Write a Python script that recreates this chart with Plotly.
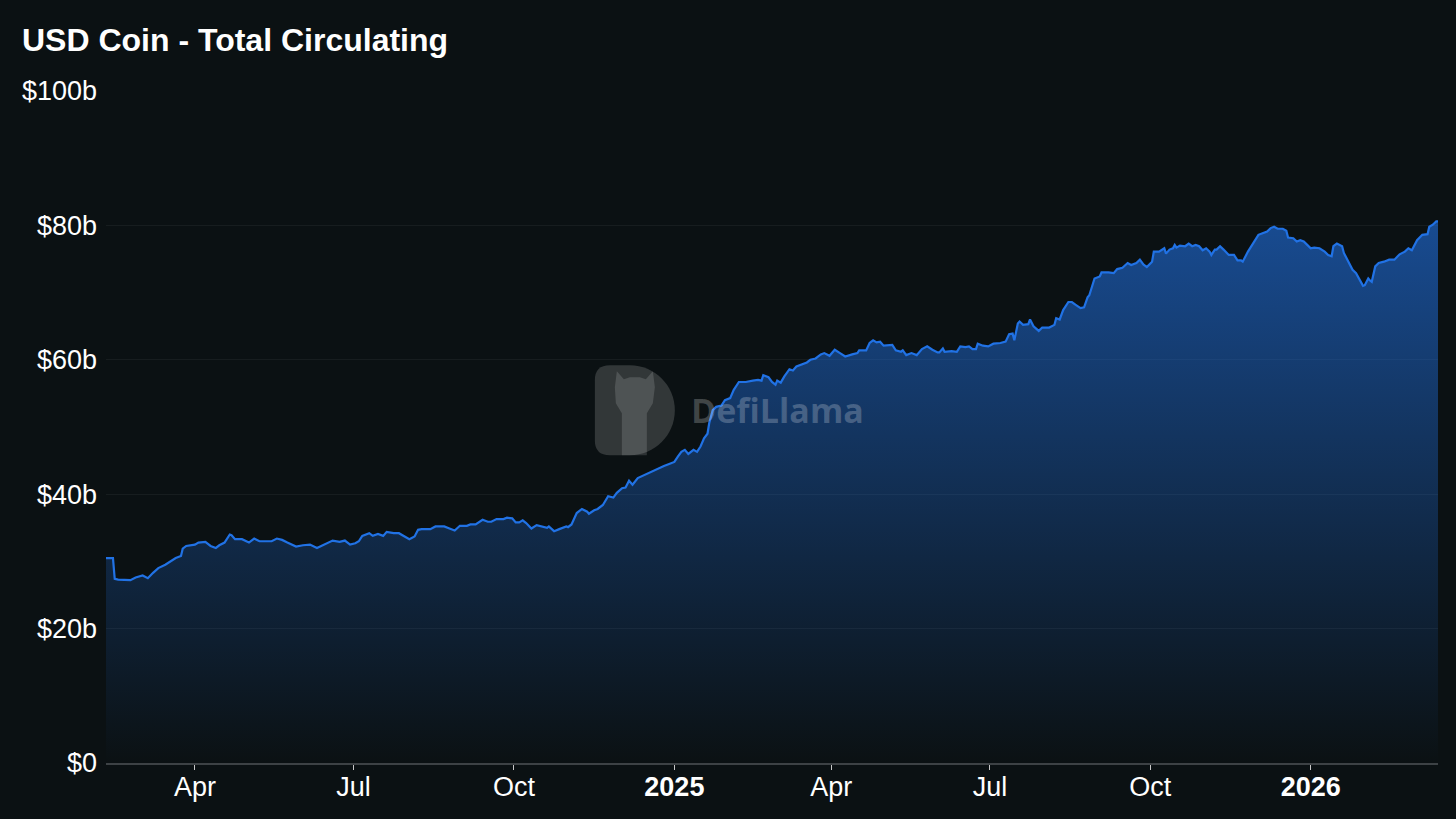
"""USD Coin - Total Circulating (DefiLlama style area chart)."""

import plotly.graph_objects as go

# ---------------------------------------------------------------
# Data: USDC circulating supply, in $ billions
# ---------------------------------------------------------------
dates = [
    "2024-02-10", "2024-02-14", "2024-02-15", "2024-02-17", "2024-02-24", "2024-02-27",
    "2024-03-02", "2024-03-05", "2024-03-08", "2024-03-11", "2024-03-15", "2024-03-18",
    "2024-03-21", "2024-03-24", "2024-03-25", "2024-03-27", "2024-04-01", "2024-04-03",
    "2024-04-07", "2024-04-10", "2024-04-13", "2024-04-15", "2024-04-18", "2024-04-21",
    "2024-04-22", "2024-04-24", "2024-04-28", "2024-05-02", "2024-05-05", "2024-05-08",
    "2024-05-15", "2024-05-18", "2024-05-21", "2024-05-24", "2024-05-29", "2024-06-02",
    "2024-06-06", "2024-06-10", "2024-06-16", "2024-06-19", "2024-06-23", "2024-06-26",
    "2024-06-29", "2024-07-02", "2024-07-04", "2024-07-06", "2024-07-10", "2024-07-12",
    "2024-07-15", "2024-07-18", "2024-07-20", "2024-07-24", "2024-07-27", "2024-07-30",
    "2024-08-02", "2024-08-05", "2024-08-07", "2024-08-09", "2024-08-14", "2024-08-17",
    "2024-08-22", "2024-08-25", "2024-08-28", "2024-08-31", "2024-09-04", "2024-09-06",
    "2024-09-09", "2024-09-13", "2024-09-16", "2024-09-18", "2024-09-21", "2024-09-25",
    "2024-09-27", "2024-09-30", "2024-10-02", "2024-10-04", "2024-10-06", "2024-10-08",
    "2024-10-11", "2024-10-14", "2024-10-17", "2024-10-20", "2024-10-21", "2024-10-24",
    "2024-10-27", "2024-10-31", "2024-11-01", "2024-11-03", "2024-11-06", "2024-11-09",
    "2024-11-12", "2024-11-13", "2024-11-16", "2024-11-18", "2024-11-21", "2024-11-23",
    "2024-11-24", "2024-11-27", "2024-11-29", "2024-12-02", "2024-12-04", "2024-12-06",
    "2024-12-08", "2024-12-11", "2024-12-15", "2024-12-19", "2024-12-23", "2024-12-26",
    "2024-12-29", "2025-01-01", "2025-01-03", "2025-01-05", "2025-01-07", "2025-01-09",
    "2025-01-12", "2025-01-14", "2025-01-16", "2025-01-18", "2025-01-20", "2025-01-21",
    "2025-01-23", "2025-01-25", "2025-01-28", "2025-01-30", "2025-02-02", "2025-02-04",
    "2025-02-07", "2025-02-11", "2025-02-15", "2025-02-18", "2025-02-20", "2025-02-21",
    "2025-02-24", "2025-02-26", "2025-02-28", "2025-03-01", "2025-03-03", "2025-03-05",
    "2025-03-08", "2025-03-10", "2025-03-12", "2025-03-15", "2025-03-18", "2025-03-20",
    "2025-03-23", "2025-03-26", "2025-03-28", "2025-03-31", "2025-04-03", "2025-04-06",
    "2025-04-09", "2025-04-13", "2025-04-16", "2025-04-17", "2025-04-21", "2025-04-23",
    "2025-04-25", "2025-04-27", "2025-04-29", "2025-05-01", "2025-05-05", "2025-05-06",
    "2025-05-08", "2025-05-11", "2025-05-12", "2025-05-14", "2025-05-17", "2025-05-20",
    "2025-05-23", "2025-05-26", "2025-05-29", "2025-06-01", "2025-06-02", "2025-06-04",
    "2025-06-05", "2025-06-09", "2025-06-12", "2025-06-14", "2025-06-17", "2025-06-19",
    "2025-06-21", "2025-06-23", "2025-06-24", "2025-06-27", "2025-06-30", "2025-07-03",
    "2025-07-07", "2025-07-10", "2025-07-12", "2025-07-14", "2025-07-15", "2025-07-17",
    "2025-07-18", "2025-07-20", "2025-07-23", "2025-07-24", "2025-07-26", "2025-07-29",
    "2025-07-31", "2025-08-04", "2025-08-07", "2025-08-08", "2025-08-10", "2025-08-12",
    "2025-08-15", "2025-08-17", "2025-08-19", "2025-08-22", "2025-08-24", "2025-08-26",
    "2025-08-27", "2025-08-30", "2025-09-02", "2025-09-03", "2025-09-07", "2025-09-10",
    "2025-09-12", "2025-09-15", "2025-09-18", "2025-09-20", "2025-09-23", "2025-09-25",
    "2025-09-27", "2025-09-29", "2025-10-02", "2025-10-03", "2025-10-06", "2025-10-09",
    "2025-10-10", "2025-10-12", "2025-10-14", "2025-10-15", "2025-10-16", "2025-10-18",
    "2025-10-21", "2025-10-23", "2025-10-25", "2025-10-27", "2025-10-29", "2025-10-31",
    "2025-11-02", "2025-11-04", "2025-11-05", "2025-11-07", "2025-11-08", "2025-11-10",
    "2025-11-12", "2025-11-15", "2025-11-18", "2025-11-20", "2025-11-22", "2025-11-23",
    "2025-11-26", "2025-11-29", "2025-12-02", "2025-12-04", "2025-12-07", "2025-12-09",
    "2025-12-11", "2025-12-13", "2025-12-16", "2025-12-18", "2025-12-19", "2025-12-22",
    "2025-12-24", "2025-12-26", "2025-12-28", "2025-12-30", "2026-01-01", "2026-01-03",
    "2026-01-06", "2026-01-09", "2026-01-11", "2026-01-13", "2026-01-14", "2026-01-16",
    "2026-01-19", "2026-01-20", "2026-01-22", "2026-01-25", "2026-01-27", "2026-01-29",
    "2026-01-31", "2026-02-01", "2026-02-03", "2026-02-04", "2026-02-05", "2026-02-07",
    "2026-02-09", "2026-02-12", "2026-02-15", "2026-02-18", "2026-02-21", "2026-02-24",
    "2026-02-26", "2026-02-28", "2026-03-03", "2026-03-06", "2026-03-09", "2026-03-10",
    "2026-03-12", "2026-03-14", "2026-03-15",
]

circulating_b = [
    30.5, 30.5, 27.4, 27.3, 27.2, 27.6,
    27.9, 27.5, 28.3, 29.0, 29.5, 30.0,
    30.5, 30.8, 31.9, 32.3, 32.5, 32.8,
    32.9, 32.3, 32.0, 32.4, 32.8, 34.0,
    33.9, 33.3, 33.3, 32.8, 33.4, 33.0,
    33.0, 33.4, 33.2, 32.8, 32.2, 32.4,
    32.5, 32.0, 32.8, 33.1, 32.9, 33.1,
    32.5, 32.7, 33.0, 33.8, 34.2, 33.8,
    34.1, 33.8, 34.4, 34.2, 34.2, 33.8,
    33.3, 33.7, 34.7, 34.8, 34.8, 35.2,
    35.2, 34.9, 34.6, 35.3, 35.3, 35.5,
    35.5, 36.2, 35.9, 35.9, 36.3, 36.3,
    36.5, 36.4, 35.8, 35.8, 36.1, 35.7,
    34.9, 35.4, 35.2, 35.0, 35.2, 34.5,
    34.8, 35.2, 35.1, 35.5, 37.2, 37.8,
    37.4, 37.1, 37.6, 37.8, 38.4, 39.4,
    39.7, 39.5, 40.2, 40.9, 41.0, 42.0,
    41.4, 42.4, 42.9, 43.3, 43.8, 44.2,
    44.5, 44.8, 45.6, 46.3, 46.6, 46.0,
    46.6, 46.3, 47.1, 48.3, 49.0, 50.6,
    52.5, 53.0, 53.2, 54.0, 54.3, 55.5,
    56.7, 56.7, 56.9, 57.0, 56.9, 57.7,
    57.4, 56.7, 56.3, 56.9, 56.6, 57.5,
    58.6, 58.4, 59.0, 59.3, 59.6, 60.0,
    60.2, 60.8, 61.0, 60.6, 61.5, 61.0,
    60.5, 60.8, 61.0, 61.4, 61.4, 62.5,
    62.9, 62.6, 62.7, 62.1, 62.1, 62.2,
    61.4, 61.2, 61.4, 60.7, 61.0, 60.7,
    61.6, 62.0, 61.5, 61.1, 61.1, 61.7,
    61.2, 61.3, 61.2, 62.0, 61.9, 62.0,
    61.6, 61.6, 62.4, 62.1, 62.0, 62.4,
    62.5, 62.7, 63.8, 63.9, 62.9, 65.4,
    65.7, 65.2, 65.3, 66.0, 65.0, 64.3,
    64.8, 64.8, 65.2, 66.2, 66.0, 67.4,
    68.6, 68.6, 68.2, 67.7, 67.8, 69.3,
    69.6, 72.1, 72.4, 73.0, 73.0, 72.9,
    73.5, 73.7, 74.4, 74.1, 74.4, 74.9,
    74.2, 73.8, 74.6, 76.1, 76.1, 76.6,
    75.8, 76.4, 76.6, 77.1, 76.7, 77.0,
    76.9, 77.3, 76.9, 77.1, 76.9, 76.3,
    76.6, 76.1, 75.6, 76.4, 76.4, 76.9,
    76.4, 75.6, 75.6, 74.8, 74.8, 74.6,
    76.1, 77.3, 78.6, 78.8, 79.1, 79.6,
    79.8, 79.5, 79.5, 79.2, 78.2, 78.1,
    77.6, 77.8, 77.6, 77.1, 76.6, 76.7,
    76.6, 76.1, 75.6, 75.4, 76.9, 77.3,
    76.9, 75.9, 74.9, 73.4, 72.9, 71.9,
    71.0, 71.1, 72.1, 71.8, 71.6, 73.9,
    74.4, 74.6, 74.9, 74.9, 75.7, 76.1,
    76.6, 76.3, 77.8, 78.6, 78.7, 79.8,
    80.1, 80.6, 80.6,
]

y_tick_vals = [0, 20, 40, 60, 80, 100]
y_tick_text = ["$0", "$20b", "$40b", "$60b", "$80b", "$100b"]

x_tick_vals = [
    "2024-04-01", "2024-07-01", "2024-10-01", "2025-01-01",
    "2025-04-01", "2025-07-01", "2025-10-01", "2026-01-01",
]
x_tick_text = ["Apr", "Jul", "Oct", "<b>2025</b>", "Apr", "Jul", "Oct", "<b>2026</b>"]

# ---------------------------------------------------------------
# Styling
# ---------------------------------------------------------------
BG = "#0b1113"
LINE_BLUE = "#2172e5"
FONT = "Helvetica, 'Liberation Sans', Arial, sans-serif"

fig = go.Figure()

fig.add_trace(go.Scatter(
    x=dates, y=circulating_b,
    mode="lines", name="USDC",
    line=dict(color=LINE_BLUE, width=2.2),
    fill="tozeroy",
    fillgradient=dict(
        type="vertical",
        colorscale=[[0, "rgba(33,114,229,0.0)"],
                    [1, "rgba(33,114,229,0.6)"]],
        start=0, stop=max(circulating_b),
    ),
    hoverinfo="skip",
))

# DefiLlama watermark (rough logo + wordmark)
logo_d = ("M 0,-15 Q 0,0 15,0 L 35,0 C 59.85,0 80,-20.15 80,-45 "
          "C 80,-69.85 59.85,-90 35,-90 L 15,-90 Q 0,-90 0,-75 Z")
llama = ("M 27,-90 L 27,-48 L 21,-38 L 20,-22 L 22,-6 L 29,-14 L 35,-12 "
         "L 45,-12 L 51,-14 L 58,-6 L 60,-22 L 58,-38 L 52,-48 L 52,-90 Z")
for path, col in [(logo_d, "rgba(255,255,255,0.16)"),
                  (llama, "rgba(255,255,255,0.14)")]:
    fig.add_shape(
        type="path", path=path,
        xref="paper", yref="paper",
        xsizemode="pixel", ysizemode="pixel",
        xanchor=0.367, yanchor=0.592,
        fillcolor=col, line=dict(width=0), layer="above",
    )

fig.add_annotation(
    text="<b>DefiLlama</b>", xref="paper", yref="paper",
    x=0.438, y=0.526, xanchor="left", yanchor="middle",
    showarrow=False,
    font=dict(family="'Open Sans', Lato, sans-serif", size=34,
              color="rgba(255,255,255,0.22)"),
)

fig.update_layout(
    width=1456, height=819,
    paper_bgcolor=BG, plot_bgcolor=BG,
    margin=dict(l=106, r=18, t=91, b=56),
    showlegend=False,
    font=dict(family=FONT, color="#ffffff", size=27),
    title=dict(
        text="<b>USD Coin - Total Circulating</b>",
        x=22 / 1456, xref="container", xanchor="left",
        y=1 - 40 / 819, yref="container", yanchor="middle",
        font=dict(family=FONT, size=32, color="#ffffff"),
    ),
    xaxis=dict(
        range=[dates[0], dates[-1]],
        tickvals=x_tick_vals, ticktext=x_tick_text,
        showgrid=False, zeroline=False,
        showline=True, linecolor="#3d4245", linewidth=1.5,
        ticks="outside", ticklen=5, tickcolor="#c8c8c8", tickwidth=1,
        ticklabelstandoff=-6,
        tickfont=dict(size=27, color="#ffffff"),
    ),
    yaxis=dict(
        range=[0, 100],
        tickvals=y_tick_vals, ticktext=y_tick_text,
        showgrid=True, gridcolor="rgba(255,255,255,0.05)", gridwidth=1,
        zeroline=False, showline=False, ticks="",
        ticklabelstandoff=8,
        tickfont=dict(size=27, color="#ffffff"),
    ),
)

fig.write_html(
    "out.html",
    config={"displayModeBar": False},
    post_script="document.body.style.margin='0';"
                "document.body.style.background='#0b1113';",
)
